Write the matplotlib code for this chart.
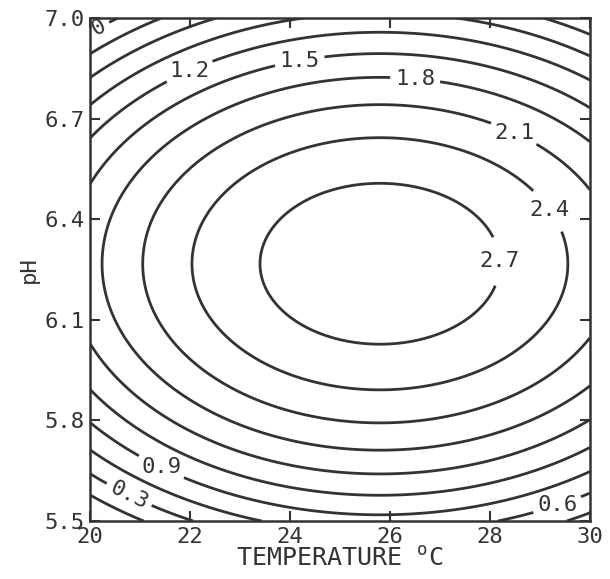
import numpy as np
import matplotlib
matplotlib.use("Agg")
import matplotlib.pyplot as plt

# response surface (fitted quadratic)
Z_MAX = 2.906      # peak response
T_OPT = 25.8       # optimum temperature, C
PH_OPT = 6.267     # optimum pH
A_T = 0.0358       # curvature along temperature
B_PH = 3.58        # curvature along pH

levels = [0.0, 0.3, 0.6, 0.9, 1.2, 1.5, 1.8, 2.1, 2.4, 2.7]
level_text = ["0", "0.3", "0.6", "0.9", "1.2", "1.5", "1.8", "2.1", "2.4", "2.7"]

x_ticks = [20, 22, 24, 26, 28, 30]
y_ticks = [5.5, 5.8, 6.1, 6.4, 6.7, 7.0]

# where the labels sit (temperature, pH)
label_pos = [(20.2, 6.964), (22.0, 6.838), (24.2, 6.868), (26.5, 6.808),
             (28.4, 6.63), (29.36, 6.446), (28.24, 6.275),
             (21.4, 5.653), (20.76, 5.572), (29.34, 5.551)]
keep_rotation = ["0", "0.3"]

INK = "#333333"
plt.rcParams["font.family"] = ["DejaVu Sans Mono", "DejaVu Sans"]
plt.rcParams["mathtext.default"] = "regular"

T = np.linspace(20, 30, 300)
PH = np.linspace(5.5, 7.0, 300)
TT, PP = np.meshgrid(T, PH)
Z = Z_MAX - A_T * (TT - T_OPT) ** 2 - B_PH * (PP - PH_OPT) ** 2

fig = plt.figure(figsize=(6.10, 5.79), dpi=100)
ax = fig.add_axes([0.1475, 0.1002, 0.8195, 0.8688])

cs = ax.contour(TT, PP, Z, levels=levels, colors=INK, linewidths=2.0)
fmt = dict(zip(levels, level_text))
texts = ax.clabel(cs, levels=levels, fmt=fmt, fontsize=16, inline=True,
                  inline_spacing=5, manual=label_pos, colors=INK)
for t in texts:
    if t.get_text() not in keep_rotation:
        t.set_rotation(0)

ax.set_xlim(20, 30)
ax.set_ylim(5.5, 7.0)
ax.set_xticks(x_ticks)
ax.set_xticklabels([str(v) for v in x_ticks])
ax.set_yticks(y_ticks)
ax.set_yticklabels([f"{v:.1f}" for v in y_ticks])
ax.tick_params(direction="in", length=7, width=1.5, top=True, right=True,
               labelsize=16, colors=INK, pad=4)
for s in ax.spines.values():
    s.set_linewidth(1.8)
    s.set_color(INK)

ax.set_xlabel("TEMPERATURE $^{o}$C", fontsize=18, color=INK, labelpad=0)
ax.set_ylabel("pH", fontsize=16, color=INK, labelpad=4)

fig.savefig("out.png", dpi=100)
